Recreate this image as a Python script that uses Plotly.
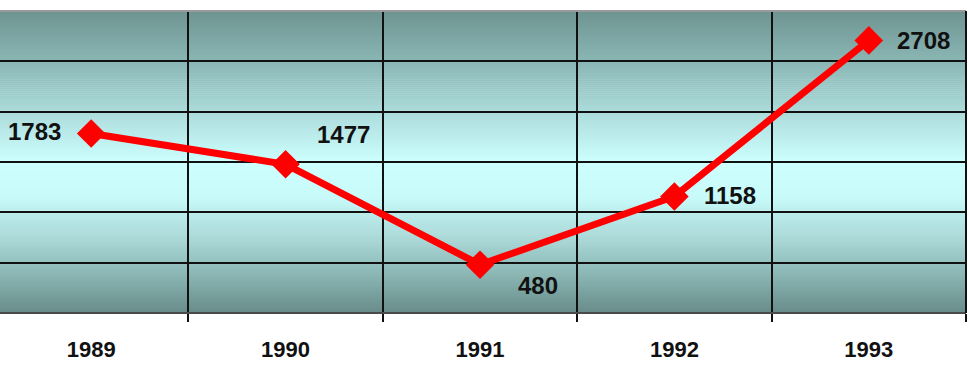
import plotly.graph_objects as go

years = ["1989", "1990", "1991", "1992", "1993"]
values = [1783, 1477, 480, 1158, 2708]
label_xanchor = ["right", "left", "left", "left", "left"]
label_xshift = [-28, 29, 36, 28, 26]
label_yshift = [2, 30, -21, 1, 0]

fig = go.Figure()

# gradient background (top dark teal -> light cyan -> bottom dark teal)
stops = [(0.0, (110, 148, 145)), (0.18, (140, 185, 183)), (0.5, (205, 255, 255)),
         (0.62, (200, 250, 250)), (0.85, (145, 190, 188)), (1.0, (104, 140, 137))]

def col(t):
    for (t0, c0), (t1, c1) in zip(stops[:-1], stops[1:]):
        if t0 <= t <= t1:
            f = (t - t0) / (t1 - t0) if t1 > t0 else 0
            return "rgb(%d,%d,%d)" % tuple(round(a + (b - a) * f) for a, b in zip(c0, c1))
    return "rgb(%d,%d,%d)" % stops[-1][1]

shapes = []
n = 150
for i in range(n):
    t = (i + 0.5) / n
    shapes.append(dict(type="rect", xref="paper", yref="paper", x0=0, x1=1,
                       y0=1 - (i + 1) / n - 0.001, y1=1 - i / n + 0.001,
                       fillcolor=col(t), line=dict(width=0), layer="below"))
# borders
shapes.append(dict(type="line", xref="paper", yref="paper", x0=0, x1=1, y0=1, y1=1,
                   line=dict(color="#9a9a9a", width=2)))
shapes.append(dict(type="line", xref="paper", yref="paper", x0=0, x1=1, y0=0, y1=0,
                   line=dict(color="#4a4a4a", width=2)))
shapes.append(dict(type="line", xref="paper", yref="paper", x0=1, x1=1, y0=0, y1=1,
                   line=dict(color="#111111", width=2)))

fig.add_trace(go.Scatter(
    x=years, y=values, mode="lines+markers",
    line=dict(color="#ff0000", width=7),
    marker=dict(symbol="diamond", size=22, color="#ff0000"),
    cliponaxis=False, hoverinfo="skip"))

annotations = []
for i, (v, xa, xs, ys) in enumerate(zip(values, label_xanchor, label_xshift, label_yshift)):
    annotations.append(dict(x=i, y=v, xref="x", yref="y", text=str(v), showarrow=False,
                            xanchor=xa, yanchor="middle", xshift=xs, yshift=ys,
                            font=dict(family="Liberation Sans", size=24, color="#111111", weight="bold")))

fig.update_layout(
    width=969, height=388,
    margin=dict(l=0, r=3, t=11, b=75),
    paper_bgcolor="white", plot_bgcolor="rgba(0,0,0,0)",
    showlegend=False, shapes=shapes, annotations=annotations,
    xaxis=dict(type="category", range=[-0.469, 4.5], tickson="boundaries",
               showgrid=True, gridcolor="#111111", gridwidth=2,
               ticks="outside", ticklen=8, tickwidth=2, tickcolor="#111111",
               tickfont=dict(family="Liberation Sans", size=22, color="#111111", weight="bold"),
               ticklabelstandoff=21, showline=False, zeroline=False, fixedrange=True),
    yaxis=dict(range=[0, 3000], tickvals=[500, 1000, 1500, 2000, 2500],
               showticklabels=False, showgrid=True, gridcolor="#111111", gridwidth=2,
               zeroline=False, showline=False, fixedrange=True),
)

fig.write_html("out.html")
